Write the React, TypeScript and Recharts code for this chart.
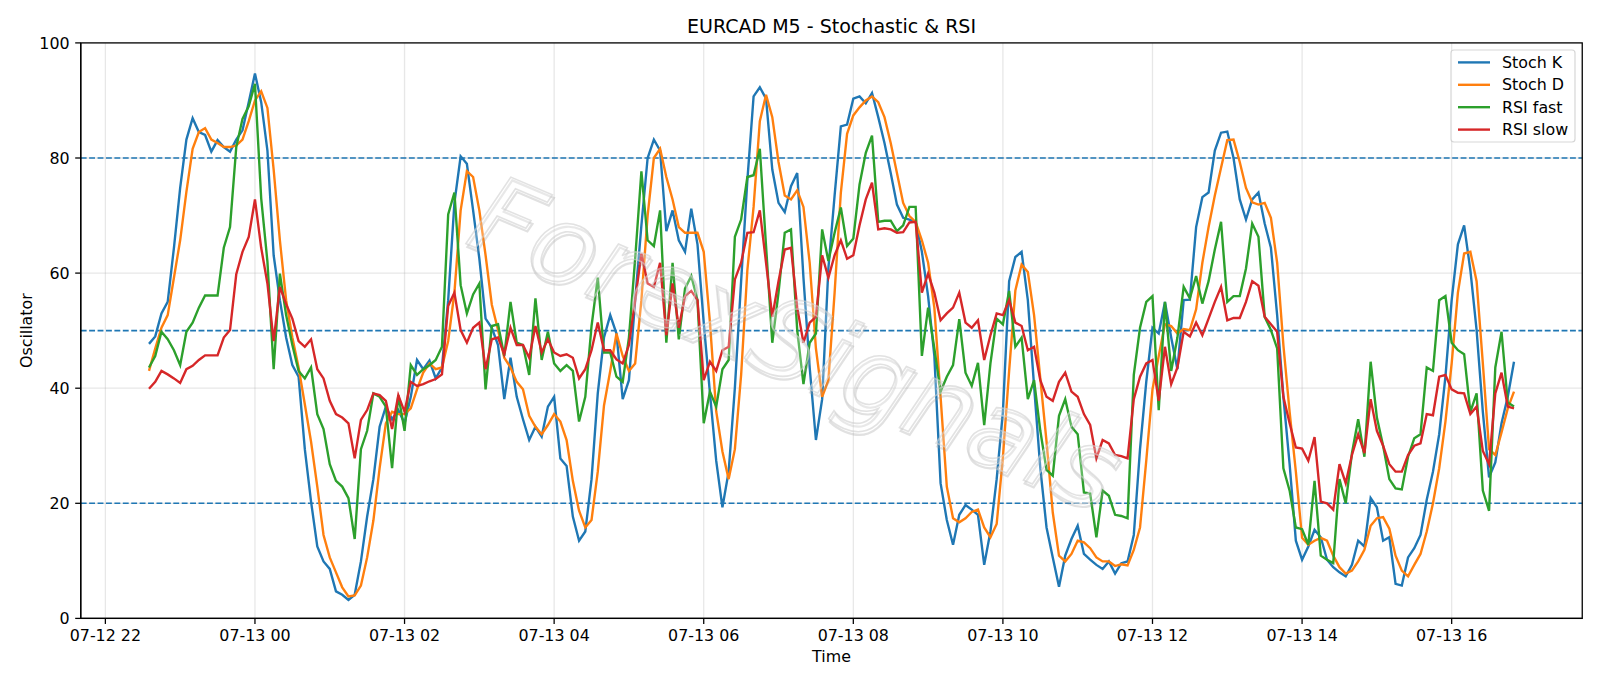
import React from 'react';
import { LineChart, Line, XAxis, YAxis, CartesianGrid, ReferenceLine } from 'recharts';

// 5-minute bars, first bar at 07-12 22:35 (minutes counted from 07-12 22:00)
const START_MIN = 35;
const STEP_MIN = 5;

const X_TICKS = [0, 120, 240, 360, 480, 600, 720, 840, 960, 1080];
const X_TICK_LABELS = [
  '07-12 22', '07-13 00', '07-13 02', '07-13 04', '07-13 06',
  '07-13 08', '07-13 10', '07-13 12', '07-13 14', '07-13 16',
];
const Y_TICKS = [0, 20, 40, 60, 80, 100];
const LEVELS = [20, 50, 80];

const STOCH_K = [
  47.7, 49.0, 53.0, 55.0, 64.4, 74.8, 83.2, 86.9, 84.5, 84.0,
  81.1, 83.1, 81.9, 81.1, 83.2, 84.8, 89.7, 94.7, 89.7, 81.3,
  63.1, 55.3, 48.8, 44.0, 42.0, 29.4, 20.3, 12.5, 9.9, 8.6,
  4.7, 4.1, 3.2, 4.1, 9.9, 17.7, 24.2, 33.3, 36.8, 34.6,
  36.2, 33.9, 38.5, 44.9, 43.3, 44.8, 41.7, 43.6, 55.3, 72.2,
  80.3, 79.0, 70.9, 62.5, 52.1, 50.5, 47.5, 38.1, 45.3, 38.5,
  34.6, 31.0, 33.3, 31.6, 36.8, 38.5, 27.8, 26.5, 17.7, 13.5,
  15.1, 24.2, 39.1, 48.8, 52.7, 49.5, 38.1, 41.4, 55.3, 68.3,
  80.0, 83.2, 81.3, 67.3, 70.9, 65.7, 63.7, 71.2, 65.0, 51.4,
  39.1, 27.4, 19.3, 25.5, 40.1, 58.6, 76.1, 90.7, 92.3, 90.3,
  78.0, 72.2, 70.6, 75.1, 77.4, 59.2, 43.6, 31.0, 38.1, 60.8,
  73.5, 85.5, 85.8, 90.3, 90.7, 89.5, 91.3, 87.1, 82.6, 77.4,
  71.9, 69.6, 69.3, 68.9, 63.7, 56.0, 45.6, 23.5, 17.1, 12.8,
  18.0, 19.7, 18.9, 18.0, 9.3, 15.1, 24.2, 35.9, 58.6, 62.8,
  63.7, 55.3, 40.4, 26.1, 15.8, 10.6, 5.5, 10.9, 13.8, 16.1,
  11.2, 10.2, 9.3, 8.6, 9.9, 7.8, 9.6, 9.9, 14.5, 29.4,
  41.1, 50.5, 49.5, 55.0, 48.8, 43.3, 55.3, 55.4, 68.0, 73.2,
  74.0, 81.3, 84.4, 84.6, 80.0, 72.8, 69.3, 72.8, 74.0, 68.6,
  64.4, 52.7, 38.5, 26.8, 13.5, 10.2, 12.5, 15.4, 14.1, 10.2,
  8.9, 8.0, 7.3, 9.3, 13.5, 12.5, 20.9, 19.3, 13.5, 14.1,
  6.0, 5.7, 10.6, 12.2, 14.5, 20.6, 25.5, 32.0, 42.0, 55.3,
  65.0, 68.3, 60.5, 50.1, 35.9, 24.5, 27.1, 33.9, 38.5, 44.6,
];

const STOCH_D = [
  43.0, 46.9, 50.5, 52.7, 59.2, 65.7, 74.1, 81.6, 84.5, 85.2,
  83.2, 82.6, 81.9, 81.9, 82.2, 83.2, 86.4, 90.0, 91.6, 88.7,
  78.0, 65.7, 55.3, 48.8, 43.6, 37.2, 30.7, 22.9, 14.5, 10.6,
  8.0, 5.4, 3.8, 4.0, 5.7, 10.6, 17.0, 26.1, 33.9, 35.9,
  35.5, 35.5, 36.5, 39.8, 42.7, 44.3, 43.3, 43.6, 48.2, 56.6,
  70.9, 77.7, 76.7, 70.9, 63.1, 54.5, 50.1, 45.3, 43.6, 41.1,
  39.8, 35.2, 33.3, 32.0, 33.6, 35.5, 34.2, 31.0, 23.9, 18.7,
  15.8, 17.1, 25.5, 37.0, 43.0, 49.5, 45.6, 43.0, 44.3, 55.3,
  70.0, 80.0, 81.6, 76.7, 72.8, 68.0, 67.0, 67.0, 67.0, 63.7,
  51.4, 36.0, 29.0, 24.2, 29.4, 42.3, 60.5, 71.5, 86.4, 91.0,
  87.1, 79.3, 73.5, 72.8, 74.4, 71.5, 61.8, 46.9, 38.5, 41.4,
  56.6, 74.0, 84.2, 87.4, 88.8, 90.0, 90.7, 89.7, 87.1, 82.6,
  77.4, 72.2, 69.9, 68.9, 65.7, 61.8, 54.0, 38.5, 22.9, 17.4,
  16.7, 17.4, 18.5, 18.9, 15.8, 14.1, 16.4, 28.0, 43.0, 57.0,
  61.5, 60.2, 52.7, 41.7, 30.7, 18.4, 10.9, 9.9, 11.2, 13.5,
  13.2, 12.2, 10.6, 9.9, 9.9, 9.1, 9.4, 9.2, 11.9, 15.8,
  27.4, 39.8, 45.6, 51.1, 50.8, 49.5, 50.3, 50.1, 53.7, 61.8,
  68.0, 73.5, 78.3, 83.1, 83.2, 79.3, 74.8, 72.3, 71.9, 72.2,
  69.6, 61.8, 47.5, 35.9, 25.5, 14.0, 12.8, 13.5, 14.0, 13.5,
  10.9, 8.9, 7.8, 8.3, 9.9, 11.9, 16.1, 17.4, 17.6, 15.6,
  10.9, 8.3, 7.3, 9.3, 11.2, 15.1, 20.0, 26.1, 34.2, 44.3,
  56.6, 63.4, 63.7, 58.6, 44.3, 29.4, 28.4, 32.3, 36.5, 39.4,
];

const RSI_FAST = [
  43.6, 45.6, 49.8, 48.5, 46.6, 44.0, 49.8, 51.4, 54.0, 56.1,
  56.1, 56.1, 64.4, 68.0, 81.9, 86.8, 89.0, 92.9, 73.0, 62.0,
  43.3, 59.9, 52.7, 47.5, 43.0, 41.7, 43.6, 35.5, 32.9, 26.8,
  23.9, 22.9, 20.9, 13.8, 29.4, 32.6, 39.1, 38.5, 36.8, 26.1,
  38.8, 32.6, 44.0, 42.3, 43.3, 44.0, 44.9, 47.2, 70.2, 74.0,
  57.9, 53.0, 56.3, 58.2, 39.8, 50.8, 51.1, 45.6, 55.0, 47.9,
  47.5, 42.3, 55.6, 44.9, 49.8, 44.3, 43.0, 44.0, 43.0, 34.2,
  38.5, 50.8, 59.2, 46.2, 46.2, 42.0, 41.1, 48.8, 62.5, 77.7,
  65.7, 64.7, 70.9, 47.9, 61.8, 48.5, 57.3, 59.5, 55.3, 33.9,
  39.4, 36.8, 43.3, 44.9, 66.3, 69.3, 76.7, 77.0, 81.6, 64.7,
  47.9, 56.6, 67.0, 67.6, 50.1, 40.7, 47.9, 49.5, 67.6, 62.1,
  67.0, 71.4, 64.7, 66.0, 75.4, 80.9, 83.9, 68.9, 69.1, 69.1,
  67.3, 68.3, 71.5, 71.5, 45.6, 54.0, 46.9, 39.4, 42.0, 44.0,
  52.0, 42.7, 40.4, 44.4, 33.6, 44.3, 52.1, 51.1, 56.9, 47.2,
  48.8, 38.1, 41.4, 32.6, 25.8, 24.8, 35.2, 38.1, 33.3, 32.0,
  21.9, 21.7, 14.1, 22.2, 21.3, 18.0, 17.8, 17.4, 42.3, 50.5,
  55.0, 56.0, 36.2, 55.0, 43.0, 48.8, 57.6, 55.6, 59.5, 54.7,
  58.6, 64.1, 68.9, 55.0, 56.0, 56.0, 60.8, 68.6, 66.3, 52.4,
  50.1, 46.9, 26.1, 22.2, 15.8, 15.5, 12.8, 23.9, 10.9, 10.2,
  9.6, 24.2, 20.0, 28.7, 34.6, 28.1, 44.6, 34.9, 30.0, 24.2,
  22.6, 22.4, 28.1, 31.3, 32.0, 43.6, 43.0, 55.3, 56.0, 47.9,
  46.6, 45.9, 35.9, 39.1, 22.2, 18.7, 43.6, 49.8, 37.5, 36.8,
];

const RSI_SLOW = [
  39.9, 41.1, 43.0, 42.4, 41.7, 40.9, 43.3, 43.9, 44.9, 45.7,
  45.7, 45.7, 48.8, 50.1, 59.8, 63.7, 66.3, 72.8, 64.4, 58.2,
  48.2, 57.6, 54.6, 52.1, 48.2, 47.2, 48.5, 43.3, 41.7, 37.8,
  35.5, 34.9, 33.9, 27.8, 34.5, 36.2, 39.1, 38.8, 37.8, 32.9,
  38.8, 35.9, 41.1, 40.4, 40.7, 41.2, 41.6, 42.4, 54.3, 56.6,
  50.1, 47.9, 50.5, 51.4, 43.3, 48.5, 48.8, 45.9, 50.5, 47.5,
  47.5, 45.3, 50.8, 46.2, 48.5, 46.2, 45.6, 45.9, 45.3, 41.7,
  43.3, 46.6, 51.4, 46.6, 46.6, 45.0, 44.3, 47.5, 55.3, 63.4,
  58.2, 57.6, 61.8, 49.2, 58.2, 50.5, 56.0, 56.9, 55.3, 41.4,
  44.6, 43.0, 46.6, 47.2, 58.9, 61.8, 67.0, 67.1, 70.9, 61.8,
  52.4, 58.6, 64.1, 64.4, 54.0, 47.9, 51.4, 52.4, 63.1, 59.2,
  63.1, 65.7, 62.5, 63.1, 68.3, 72.8, 75.7, 67.6, 67.8, 67.6,
  67.0, 67.1, 68.8, 68.9, 56.6, 59.9, 56.6, 51.8, 53.0, 54.0,
  56.6, 51.4, 50.5, 51.8, 44.9, 49.2, 53.0, 52.7, 55.3, 51.4,
  50.8, 46.6, 47.2, 41.4, 38.5, 37.8, 41.1, 42.7, 39.4, 38.5,
  35.5, 33.6, 27.8, 31.0, 30.4, 28.4, 28.2, 27.8, 38.1, 42.0,
  44.3, 44.9, 37.8, 47.2, 40.7, 43.6, 49.8, 49.0, 51.4, 49.2,
  52.1, 55.0, 57.6, 51.8, 52.2, 52.2, 55.0, 58.6, 57.8, 52.4,
  51.1, 49.8, 38.5, 33.9, 29.7, 29.5, 27.4, 31.5, 20.3, 20.0,
  18.9, 26.8, 23.5, 28.4, 32.0, 28.7, 38.1, 32.6, 30.0, 26.8,
  25.5, 25.5, 28.4, 30.0, 30.4, 35.5, 35.3, 42.0, 42.3, 39.8,
  39.2, 39.1, 35.5, 36.8, 29.1, 26.8, 39.1, 42.7, 36.8, 36.5,
];

const SERIES = [
  { key: 'k', name: 'Stoch K', color: '#1f77b4' },
  { key: 'd', name: 'Stoch D', color: '#ff7f0e' },
  { key: 'f', name: 'RSI fast', color: '#2ca02c' },
  { key: 's', name: 'RSI slow', color: '#d62728' },
];

const data = STOCH_K.map((k, i) => ({
  t: START_MIN + STEP_MIN * i,
  k,
  d: STOCH_D[i],
  f: RSI_FAST[i],
  s: RSI_SLOW[i],
}));

// figure geometry (px)
const W = 1600;
const H = 686;
const PLOT_L = 80.75;
const PLOT_R = 1582.25;
const PLOT_T = 42.9;
const PLOT_B = 618.4;
const X_DOMAIN = [-19.75, 1184.75];

const FONT = '"DejaVu Sans", sans-serif';
const PT = 114.3 / 72;

const tickStyle = { fontSize: 10 * PT, fill: '#000', fontFamily: FONT };

function fmtTick(v: number) {
  const idx = X_TICKS.indexOf(v);
  return idx >= 0 ? X_TICK_LABELS[idx] : '';
}

function Legend() {
  const x0 = 1451;
  const y0 = 50;
  const rowH = 22.4;
  return (
    <g>
      <rect x={x0} y={y0} width={124} height={92} rx={3} ry={3}
        fill="#fff" fillOpacity={0.8} stroke="#cccccc" strokeOpacity={0.8} strokeWidth={1.2} />
      {SERIES.map((s, i) => {
        const cy = y0 + 12.4 + i * rowH;
        return (
          <g key={s.key}>
            <line x1={x0 + 7} x2={x0 + 39} y1={cy} y2={cy} stroke={s.color} strokeWidth={1.5 * PT} />
            <text x={x0 + 51} y={cy} dominantBaseline="central" fontSize={10 * PT} fontFamily={FONT} fill="#000">
              {s.name}
            </text>
          </g>
        );
      })}
    </g>
  );
}

export default function App() {
  return (
    <div style={{ position: 'relative', width: W, height: H, background: '#fff' }}>
      <style>{'body{margin:0}'}</style>
      <LineChart
        width={W}
        height={H}
        data={data}
        margin={{ top: PLOT_T, right: W - PLOT_R, bottom: 0, left: 0 }}
      >
        <CartesianGrid stroke="#b0b0b0" strokeOpacity={0.3} strokeWidth={0.8 * PT} />
        <XAxis
          dataKey="t"
          type="number"
          domain={X_DOMAIN}
          ticks={X_TICKS}
          tickFormatter={fmtTick}
          allowDataOverflow
          height={H - PLOT_B}
          tick={tickStyle}
          tickSize={3.5 * PT}
          tickMargin={3.5 * PT}
          axisLine={{ stroke: '#000', strokeWidth: 0.8 * PT }}
          tickLine={{ stroke: '#000', strokeWidth: 0.8 * PT }}
        />
        <YAxis
          type="number"
          domain={[0, 100]}
          ticks={Y_TICKS}
          allowDataOverflow
          width={PLOT_L}
          tick={tickStyle}
          tickSize={3.5 * PT}
          tickMargin={3.5 * PT}
          axisLine={{ stroke: '#000', strokeWidth: 0.8 * PT }}
          tickLine={{ stroke: '#000', strokeWidth: 0.8 * PT }}
        />
        {LEVELS.map((lv) => (
          <ReferenceLine key={lv} y={lv} stroke="#1f77b4" strokeWidth={PT} strokeDasharray={`${3.7 * PT} ${1.6 * PT}`} />
        ))}
        {SERIES.map((s) => (
          <Line
            key={s.key}
            type="linear"
            dataKey={s.key}
            name={s.name}
            stroke={s.color}
            strokeWidth={1.5 * PT}
            dot={false}
            activeDot={false}
            isAnimationActive={false}
          />
        ))}
      </LineChart>
      <svg width={W} height={H} style={{ position: 'absolute', left: 0, top: 0, pointerEvents: 'none' }}>
        {/* watermark: soft shadow plus light outlined text */}
        <g transform="translate(796 343) rotate(23)" fontFamily={FONT} fontSize={108} fontStyle="italic"
          textAnchor="middle" dominantBaseline="central">
          <text x={2.5} y={2.5} fill="none" stroke="#9a9a9a" strokeOpacity={0.3} strokeWidth={2.2}>ForexSignals</text>
          <text x={0} y={0} fill="#fff" fillOpacity={0.25} stroke="#cfcfcf" strokeOpacity={0.6} strokeWidth={1.6}>ForexSignals</text>
        </g>
        <rect x={PLOT_L} y={PLOT_T} width={PLOT_R - PLOT_L} height={PLOT_B - PLOT_T}
          fill="none" stroke="#000" strokeWidth={0.8 * PT} />
        <text x={(PLOT_L + PLOT_R) / 2} y={PLOT_T - 6 * PT} textAnchor="middle" fontSize={12 * PT} fontFamily={FONT} fill="#000">
          EURCAD M5 - Stochastic &amp; RSI
        </text>
        <text x={(PLOT_L + PLOT_R) / 2} y={661.5} textAnchor="middle" fontSize={10 * PT} fontFamily={FONT} fill="#000">
          Time
        </text>
        <text transform={`translate(26 ${(PLOT_T + PLOT_B) / 2}) rotate(-90)`} textAnchor="middle" dominantBaseline="central"
          fontSize={10 * PT} fontFamily={FONT} fill="#000">
          Oscillator
        </text>
        <Legend />
      </svg>
    </div>
  );
}
